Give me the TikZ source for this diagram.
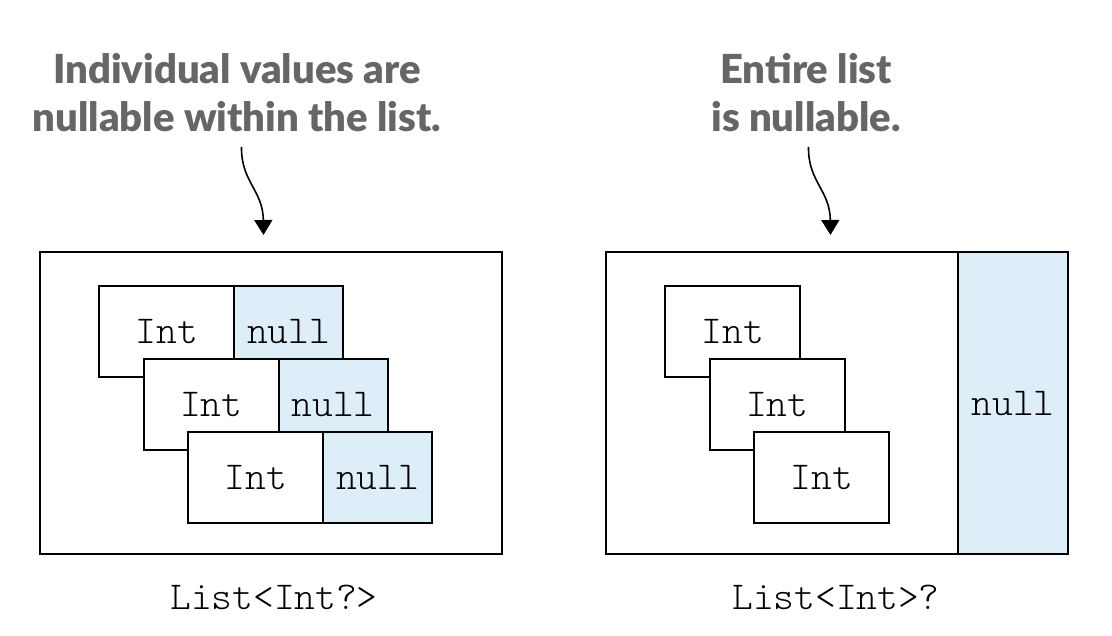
\documentclass[tikz,border=0pt]{standalone}
\usepackage{fontspec}
\setmainfont{Lato}
\newfontfamily\headfont{Lato Black}
\setmonofont{Latin Modern Mono Light}
\usetikzlibrary{arrows.meta}
\definecolor{nullblue}{HTML}{DDEEF8}
\definecolor{headgray}{HTML}{666666}
\begin{document}
\begin{tikzpicture}[x=1pt,y=-1pt,
  cell/.style={draw=black, line width=2.4pt, fill=white, inner sep=0pt, anchor=north west,
    minimum height=91pt, font=\fontsize{39.5}{40}\selectfont\ttfamily},
  intcell/.style={cell, minimum width=135pt},
  nullcell/.style={cell, fill=nullblue, minimum width=109pt},
  frame/.style={draw=black, line width=2.4pt, inner sep=0pt, anchor=north west,
    minimum width=462pt, minimum height=302pt},
  head/.style={align=center, text=headgray, font=\fontsize{40}{48}\selectfont\headfont},
  caption/.style={font=\fontsize{39.5}{40}\selectfont\ttfamily},
  pointer/.style={line width=1.6pt, -{Triangle[length=15pt,width=18pt]}}
]
\useasboundingbox (0,0) rectangle (1112,636);

% ---- left panel
\node[frame] (outL) at (39,251) {};
\node[intcell] (i1) at (98,285) {Int};
\node[nullcell] (n1) at (233,285) {null};
\node[intcell] (i2) at (142.5,358) {Int};
\node[nullcell] (n2) at (277.5,358) {null};
\node[intcell] (i3) at (187,431) {Int};
\node[nullcell] (n3) at (322,431) {null};
\node[caption] (capL) at (274,597) {List<Int?>};
\node[head] (hL) at (237,92.5) {Individual values are\\nullable within the list.};
\coordinate (aL1) at (241.5,147);
\coordinate (aL2) at (263.5,235);
\draw[pointer] (aL1) .. controls (241,182) and (263,190) .. (aL2);

% ---- right panel
\node[frame] (outR) at (605,251) {};
\node[cell, fill=nullblue, minimum width=110pt, minimum height=302pt] (nR) at (957,251) {null};
\node[intcell] (j1) at (664,285) {Int};
\node[intcell] (j2) at (708.5,358) {Int};
\node[intcell] (j3) at (753,431) {Int};
\node[caption] (capR) at (836,597) {List<Int>?};
\node[head] (hR) at (806,92.5) {Entire list\\is nullable.};
\coordinate (aR1) at (808.5,147);
\coordinate (aR2) at (830.5,235);
\draw[pointer] (aR1) .. controls (808,182) and (830,190) .. (aR2);
\end{tikzpicture}
\end{document}
